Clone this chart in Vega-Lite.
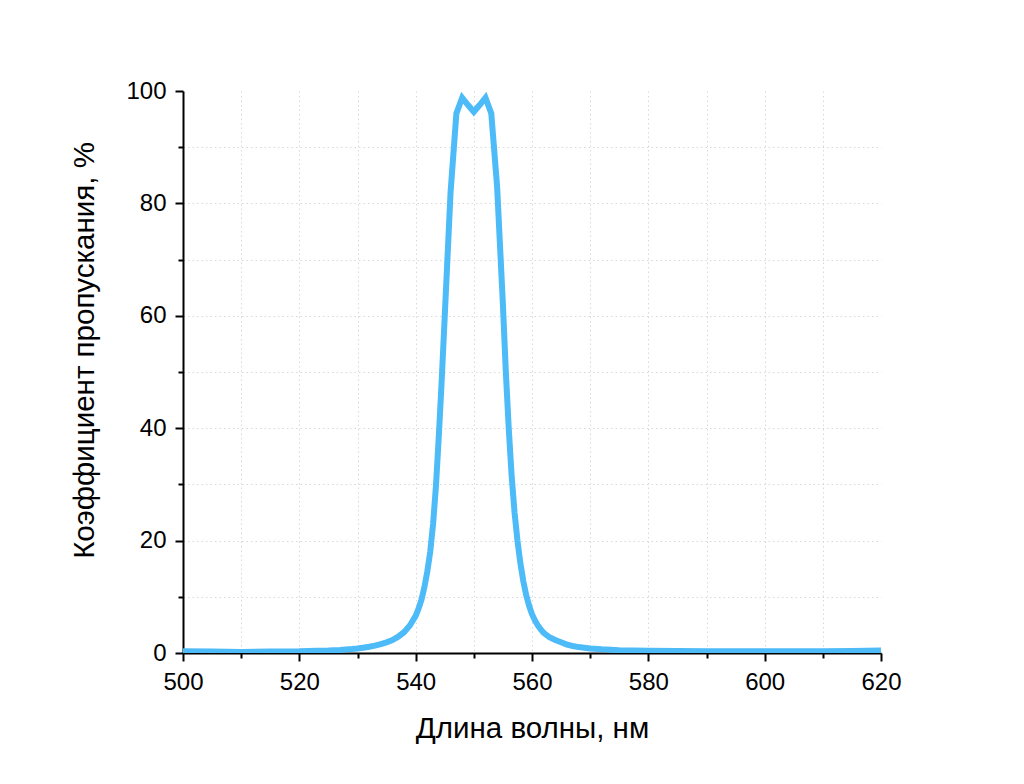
{
  "$schema": "https://vega.github.io/schema/vega-lite/v6.json",
  "width": 698,
  "height": 562,
  "autosize": {"type": "none"},
  "padding": {"left": 183, "top": 91, "right": 143, "bottom": 131},
  "background": "white",
  "config": {
    "view": {"stroke": null},
    "font": "Liberation Sans"
  },
  "data": {
    "values": [
      {"wl": 500, "t": 0.3}, {"wl": 505, "t": 0.25}, {"wl": 510, "t": 0.2},
      {"wl": 515, "t": 0.25}, {"wl": 520, "t": 0.3}, {"wl": 523, "t": 0.4},
      {"wl": 525, "t": 0.45}, {"wl": 527, "t": 0.55}, {"wl": 529, "t": 0.7},
      {"wl": 530, "t": 0.8}, {"wl": 531, "t": 0.95}, {"wl": 532, "t": 1.1},
      {"wl": 533, "t": 1.3}, {"wl": 534, "t": 1.6}, {"wl": 535, "t": 1.9},
      {"wl": 536, "t": 2.3}, {"wl": 537, "t": 2.9}, {"wl": 538, "t": 3.7},
      {"wl": 539, "t": 4.9}, {"wl": 540, "t": 6.6}, {"wl": 540.5, "t": 7.9},
      {"wl": 541, "t": 9.5}, {"wl": 541.5, "t": 11.7}, {"wl": 542, "t": 14.5},
      {"wl": 542.5, "t": 18}, {"wl": 543, "t": 23}, {"wl": 543.5, "t": 29.9},
      {"wl": 544, "t": 39}, {"wl": 544.5, "t": 49}, {"wl": 545, "t": 60},
      {"wl": 546, "t": 82}, {"wl": 547, "t": 96}, {"wl": 548, "t": 98.8},
      {"wl": 549, "t": 97.5}, {"wl": 550, "t": 96.3}, {"wl": 551, "t": 97.5},
      {"wl": 552, "t": 98.8}, {"wl": 553, "t": 96}, {"wl": 554, "t": 83},
      {"wl": 555, "t": 62}, {"wl": 555.5, "t": 50}, {"wl": 556, "t": 40},
      {"wl": 556.5, "t": 31.5}, {"wl": 557, "t": 25}, {"wl": 557.5, "t": 20},
      {"wl": 558, "t": 16}, {"wl": 558.5, "t": 12.8}, {"wl": 559, "t": 10.3},
      {"wl": 559.5, "t": 8.4}, {"wl": 560, "t": 6.9}, {"wl": 560.5, "t": 5.8},
      {"wl": 561, "t": 4.9}, {"wl": 561.5, "t": 4.2}, {"wl": 562, "t": 3.6},
      {"wl": 563, "t": 2.8}, {"wl": 564, "t": 2.3}, {"wl": 565, "t": 1.9},
      {"wl": 566, "t": 1.5}, {"wl": 567, "t": 1.25}, {"wl": 568, "t": 1.05},
      {"wl": 570, "t": 0.8}, {"wl": 572, "t": 0.65}, {"wl": 575, "t": 0.5},
      {"wl": 580, "t": 0.4}, {"wl": 590, "t": 0.3}, {"wl": 600, "t": 0.3},
      {"wl": 610, "t": 0.3}, {"wl": 615, "t": 0.35}, {"wl": 620, "t": 0.45}
    ]
  },
  "mark": {"type": "line", "color": "#4DBBF7", "strokeWidth": 6, "strokeJoin": "miter", "clip": true},
  "encoding": {
    "x": {
      "field": "wl",
      "type": "quantitative",
      "scale": {"domain": [500, 620], "nice": false, "zero": false},
      "axis": {
        "title": "Длина волны, нм",
        "values": [500, 510, 520, 530, 540, 550, 560, 570, 580, 590, 600, 610, 620],
        "labelExpr": "datum.value % 20 === 0 ? datum.label : ''",
        "labelFontSize": 24,
        "labelColor": "#000000",
        "labelPadding": 9,
        "labelFlush": false,
        "domainColor": "#000000",
        "domainWidth": 2,
        "tickColor": "#000000",
        "tickWidth": 2,
        "tickSize": {"condition": {"test": "datum.value % 20 === 0", "value": 8}, "value": 5},
        "grid": true,
        "gridColor": "#d9d9d9",
        "gridDash": [1.5, 3],
        "gridWidth": 1,
        "gridOpacity": {"condition": {"test": "datum.value === 500 || datum.value === 620", "value": 0}, "value": 1},
        "titleFontSize": 29.5,
        "titleFontWeight": "normal",
        "titleColor": "#000000",
        "titleBaseline": "alphabetic",
        "titleY": 84
      }
    },
    "y": {
      "field": "t",
      "type": "quantitative",
      "scale": {"domain": [0, 100], "nice": false},
      "axis": {
        "title": "Коэффициент пропускания, %",
        "values": [0, 10, 20, 30, 40, 50, 60, 70, 80, 90, 100],
        "labelExpr": "datum.value % 20 === 0 ? datum.label : ''",
        "labelFontSize": 24,
        "labelColor": "#000000",
        "labelPadding": 9,
        "labelFlush": false,
        "domainColor": "#000000",
        "domainWidth": 2,
        "tickColor": "#000000",
        "tickWidth": 2,
        "tickSize": {"condition": {"test": "datum.value % 20 === 0", "value": 8}, "value": 5},
        "grid": true,
        "gridColor": "#d9d9d9",
        "gridDash": [1.5, 3],
        "gridWidth": 1,
        "gridOpacity": {"condition": {"test": "datum.value === 0 || datum.value === 100", "value": 0}, "value": 1},
        "titleFontSize": 29.5,
        "titleFontWeight": "normal",
        "titleColor": "#000000",
        "titleAngle": -90,
        "titleAlign": "center",
        "titleBaseline": "alphabetic",
        "titleX": -90,
        "titleY": 259
      }
    }
  }
}
